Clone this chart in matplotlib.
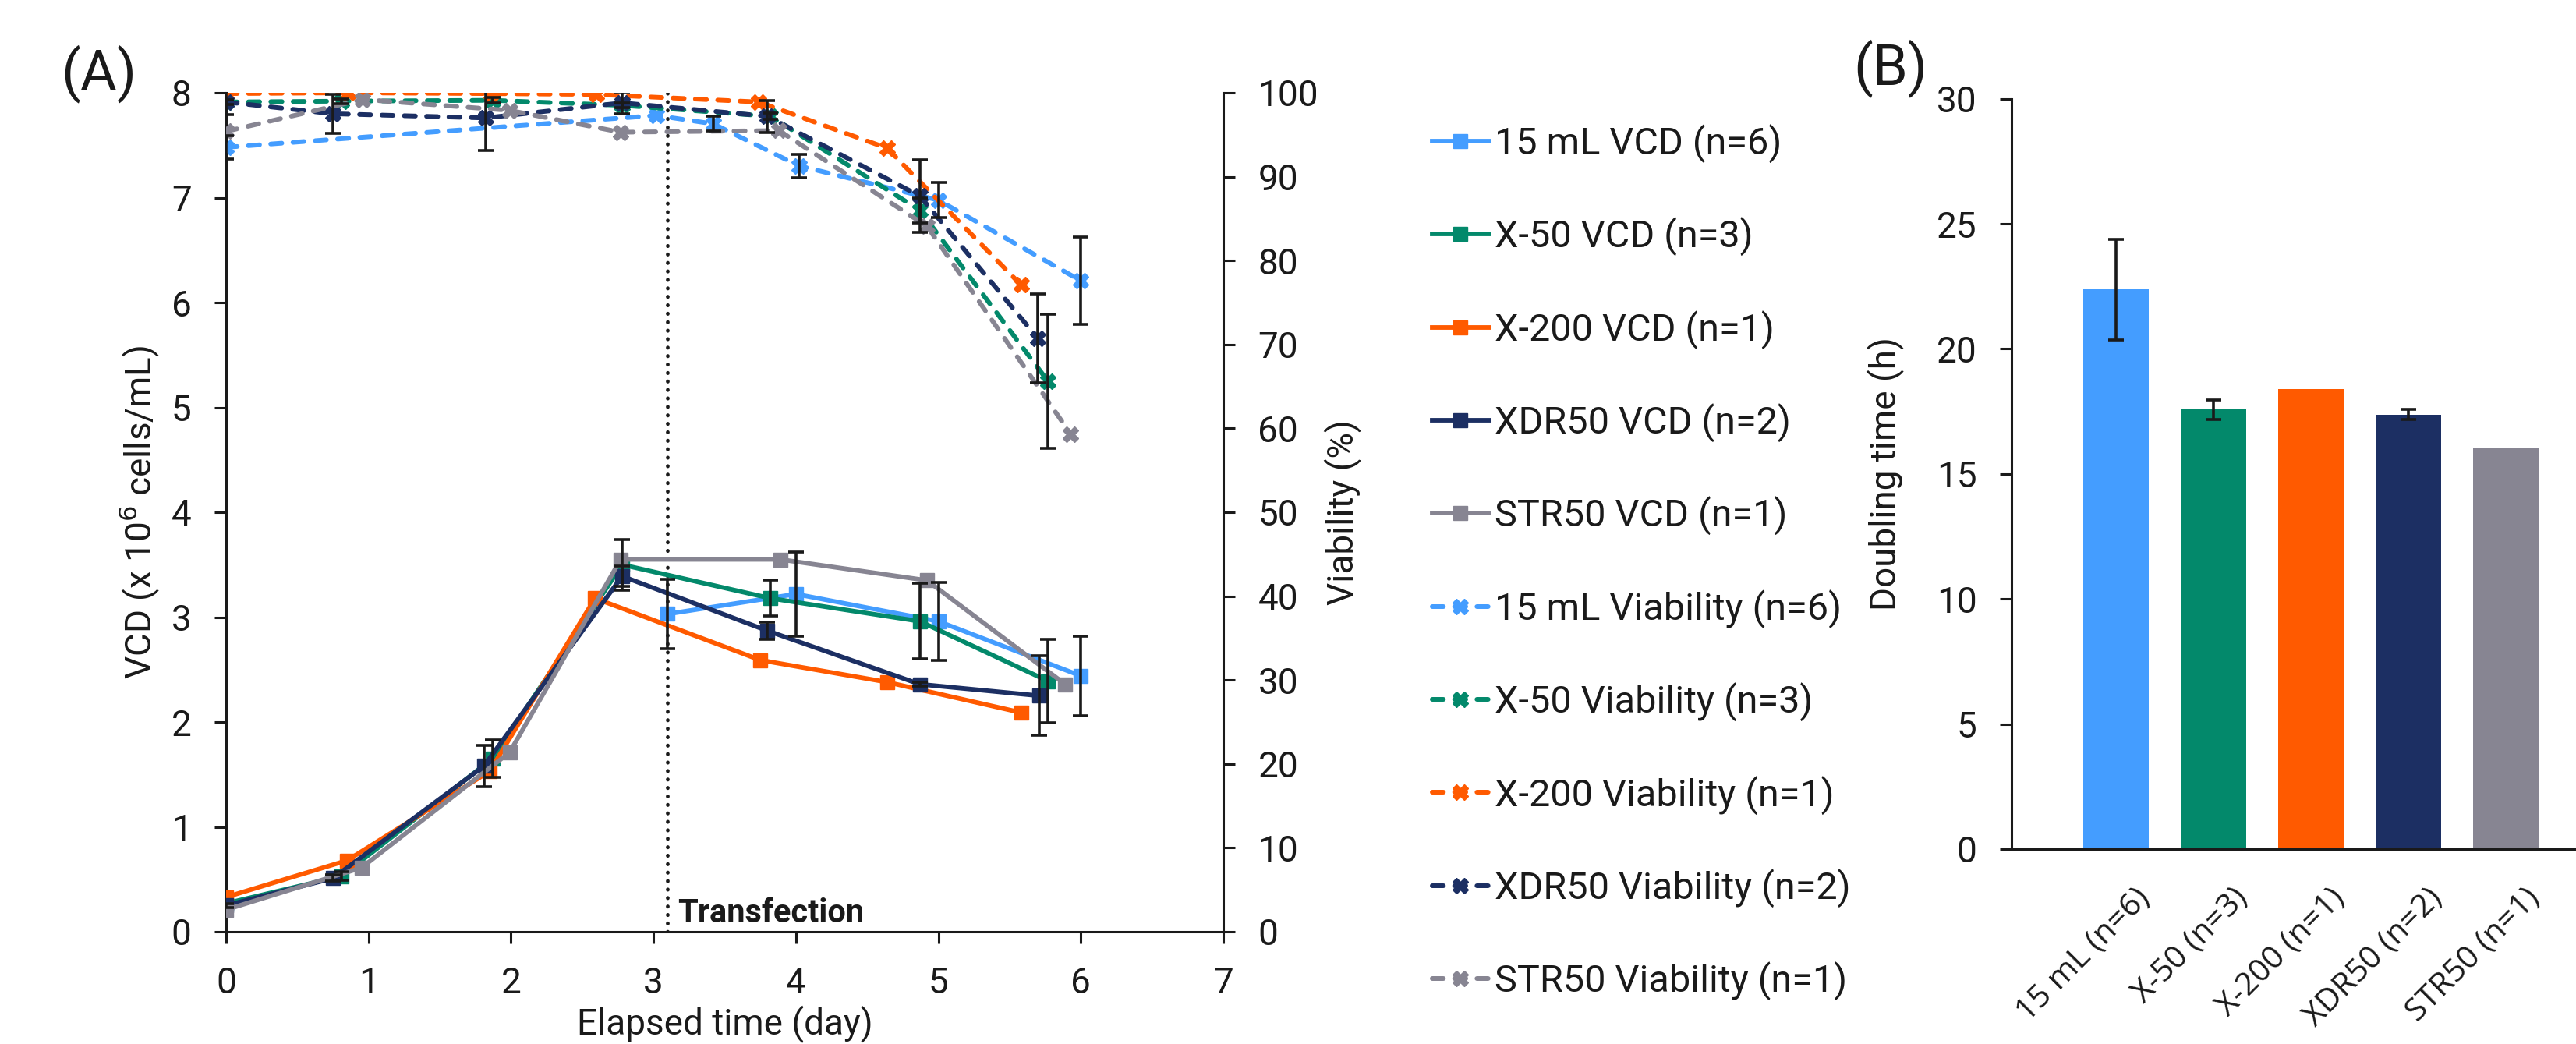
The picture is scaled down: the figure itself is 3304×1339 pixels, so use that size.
import matplotlib.pyplot as plt
import numpy as np

plt.rcParams['font.family'] = ['Roboto', 'DejaVu Sans']

# series styling per culture system
groups = ["15 mL", "X-50", "X-200", "XDR50", "STR50"]
n_runs = [6, 3, 1, 2, 1]
colors = ["#449DFF", "#03896B", "#FF5A00", "#1C2F63", "#878592"]

# VCD (x 10^6 cells/mL) vs elapsed time (day)
vcd_days = [
    [3.10, 4.00, 5.00, 6.00],
    [0.00, 0.81, 1.87, 2.78, 3.82, 4.87, 5.77],
    [0.00, 0.85, 1.85, 2.59, 3.75, 4.64, 5.58],
    [0.00, 0.75, 1.81, 2.78, 3.80, 4.87, 5.71],
    [0.00, 0.95, 1.99, 2.77, 3.89, 4.92, 5.89],
]
vcd_vals = [
    [3.03, 3.22, 2.96, 2.44],
    [0.27, 0.53, 1.65, 3.50, 3.18, 2.96, 2.39],
    [0.33, 0.68, 1.53, 3.18, 2.59, 2.38, 2.09],
    [0.25, 0.51, 1.58, 3.39, 2.87, 2.36, 2.25],
    [0.21, 0.61, 1.71, 3.55, 3.55, 3.35, 2.36],
]
vcd_err = [
    [0.33, 0.40, 0.37, 0.38],
    [0.00, 0.04, 0.18, 0.24, 0.17, 0.36, 0.40],
    [0, 0, 0, 0, 0, 0, 0],
    [0.02, 0.03, 0.20, 0.10, 0.08, 0.02, 0.38],
    [0, 0, 0, 0, 0, 0, 0],
]

# Viability (%)
via_days = [
    [0.00, 3.02, 3.42, 4.02, 5.00, 6.00],
    [0.00, 0.81, 1.87, 2.78, 3.82, 4.87, 5.77],
    [0.00, 0.86, 1.86, 2.60, 3.74, 4.64, 5.58],
    [0.00, 0.75, 1.82, 2.78, 3.80, 4.87, 5.70],
    [0.00, 0.96, 1.99, 2.77, 3.88, 4.92, 5.93],
]
via_vals = [
    [93.5, 97.3, 96.3, 91.3, 87.2, 77.6],
    [98.9, 99.0, 99.1, 98.5, 97.2, 86.0, 65.6],
    [99.9, 100.0, 99.9, 99.8, 98.9, 93.4, 77.1],
    [98.9, 97.5, 97.0, 98.8, 97.2, 87.7, 70.7],
    [95.4, 99.2, 97.9, 95.3, 95.5, 84.1, 59.3],
]
via_err = [
    [1.4, 0.0, 0.9, 1.4, 2.1, 5.2],
    [0.3, 0.3, 0.3, 0.3, 0.4, 1.5, 8.0],
    [0, 0, 0, 0, 0, 0, 0],
    [1.5, 2.3, 3.9, 1.3, 1.9, 4.3, 5.3],
    [0, 0, 0, 0, 0, 0, 0],
]

transfection_day = 3.1

# doubling time (h)
bar_labels = ["15 mL (n=6)", "X-50 (n=3)", "X-200 (n=1)", "XDR50 (n=2)", "STR50 (n=1)"]
doubling = [22.37, 17.57, 18.39, 17.37, 16.03]
doubling_err = [2.0, 0.4, 0.0, 0.2, 0.0]

W, H = 3304, 1339
fig = plt.figure(figsize=(W / 100, H / 100), dpi=100)

ink = "#1a1a1a"
tick_fs = 33
narrow = ['Liberation Sans Narrow', 'Roboto']

# ---- panel A ----
ax = fig.add_axes([290 / W, 1 - 1195 / H, (1569 - 290) / W, (1195 - 119) / H])
ax2 = ax.twinx()

handles_vcd, handles_via = [], []
for i in range(len(groups)):
    h, = ax.plot(vcd_days[i], vcd_vals[i], color=colors[i], lw=4.2, marker='s',
                 markersize=13.5, label=f"{groups[i]} VCD (n={n_runs[i]})", zorder=3)
    handles_vcd.append(h)
    e = np.array(vcd_err[i])
    m = e > 0
    if m.any():
        ax.errorbar(np.array(vcd_days[i])[m], np.array(vcd_vals[i])[m], yerr=e[m],
                    fmt='none', ecolor=ink, elinewidth=2.6, capsize=7, capthick=2.6, zorder=4)

for i in range(len(groups)):
    h, = ax2.plot(via_days[i], via_vals[i], color=colors[i], lw=4.3, marker='X',
                  markersize=15, linestyle=(0, (2.4, 2.4)), dash_capstyle='round',
                  label=f"{groups[i]} Viability (n={n_runs[i]})", zorder=3)
    handles_via.append(h)
    e = np.array(via_err[i])
    m = e > 0
    if m.any():
        ax2.errorbar(np.array(via_days[i])[m], np.array(via_vals[i])[m], yerr=e[m],
                     fmt='none', ecolor=ink, elinewidth=2.6, capsize=7, capthick=2.6, zorder=4)

ax.plot([transfection_day, transfection_day], [0, 8], color=ink, lw=3.4,
        linestyle=(0, (0.1, 2.2)), dash_capstyle='round', zorder=2)
ax.text(transfection_day + 0.07, 0.09, "Transfection", fontsize=30, fontweight='bold',
        family=narrow, color=ink, va='baseline', ha='left')

ax.set_xlim(0, 7)
ax.set_ylim(0, 8)
ax2.set_ylim(0, 100)
ax.set_xticks(range(8))
ax.set_yticks(range(9))
ax2.set_yticks(range(0, 101, 10))

for a in (ax, ax2):
    a.spines['top'].set_visible(False)
    for s in a.spines.values():
        s.set_linewidth(2.2)
        s.set_color(ink)
    a.tick_params(labelsize=tick_fs, width=2.2, length=11, color=ink, labelcolor=ink, pad=21)
ax2.spines['left'].set_visible(False)
ax2.spines['bottom'].set_visible(False)
ax.spines['right'].set_visible(False)

ax.set_xlabel("Elapsed time (day)", fontsize=33, color=ink, labelpad=4)
ax.set_ylabel("VCD (x 10$^{6}$ cells/mL)", fontsize=33, color=ink, labelpad=9)
ax2.set_ylabel("Viability (%)", fontsize=33, color=ink, rotation=90, labelpad=5)

fig.text(127 / W, 1 - 95 / H, "(A)", fontsize=52, family=narrow,
         color=ink, ha='center', va='center')
fig.text(2425 / W, 1 - 88 / H, "(B)", fontsize=52, family=narrow,
         color=ink, ha='center', va='center')

fig.legend(handles_vcd + handles_via, [h.get_label() for h in handles_vcd + handles_via],
           loc='upper left', bbox_to_anchor=(1837 / W, 1 - 159 / H), frameon=False,
           fontsize=35, labelspacing=1.43, handlelength=1.5, handletextpad=0.15,
           borderpad=0, borderaxespad=0, labelcolor=ink)

# ---- panel B ----
bx = fig.add_axes([2580 / W, 1 - 1089 / H, (W - 2580) / W, (1089 - 126.7) / H])
pos = np.arange(len(bar_labels))
bx.bar(pos, doubling, width=0.672, color=colors, zorder=2)
e = np.array(doubling_err)
m = e > 0
bx.errorbar(pos[m], np.array(doubling)[m], yerr=e[m], fmt='none', ecolor=ink,
            elinewidth=2.6, capsize=7, capthick=2.6, zorder=3)
bx.set_xlim(-1.072, 4.72)
bx.set_ylim(0, 30)
bx.set_yticks(range(0, 31, 5))
bx.set_xticks(pos)
bx.set_xticklabels([])
for p, lab in zip(pos, bar_labels):
    bx.annotate(lab, xy=(p, 0), xycoords=('data', 'axes fraction'),
                xytext=(17, -31), textcoords='offset points', rotation=45,
                ha='right', va='top', rotation_mode='anchor', fontsize=29.5,
                family=['Open Sans', 'Roboto'], color=ink, annotation_clip=False)
bx.spines['top'].set_visible(False)
bx.spines['right'].set_visible(False)
for s in bx.spines.values():
    s.set_linewidth(2.2)
    s.set_color(ink)
bx.tick_params(axis='y', labelsize=tick_fs, width=2.2, length=11, color=ink, labelcolor=ink, pad=21)
bx.tick_params(axis='x', length=0)
bx.set_ylabel("Doubling time (h)", fontsize=33, color=ink, labelpad=30)

fig.savefig("out.png", dpi=100)
